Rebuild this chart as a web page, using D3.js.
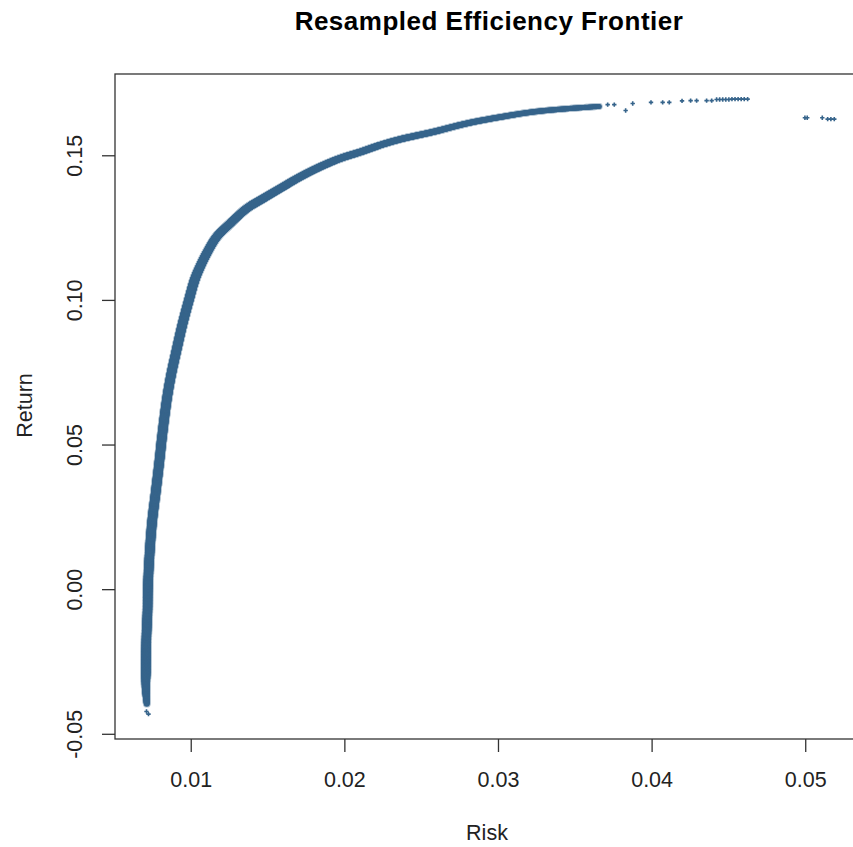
<!DOCTYPE html>
<html>
<head>
<meta charset="utf-8">
<script src="https://cdn.jsdelivr.net/npm/d3@7"></script>
<style>
  body { margin: 0; background: #fff; }
  svg { display: block; font-family: "Liberation Sans", Arial, sans-serif; }
</style>
</head>
<body>
<svg id="chart" width="853" height="847"></svg>
<script>
// Resampled frontier: centre of the dense band, bottom to top
const bandRisk = [0.00714, 0.00708, 0.00708, 0.00711, 0.00719, 0.00721, 0.00730, 0.00748, 0.00774, 0.00797,
  0.00811, 0.00844, 0.00872, 0.00908, 0.00945, 0.00988, 0.01025, 0.01057, 0.01104, 0.01169,
  0.01256, 0.01365, 0.01473, 0.01581, 0.01711, 0.01842, 0.01972, 0.02102, 0.02232, 0.02362,
  0.02579, 0.02796, 0.03013, 0.03230, 0.03447, 0.03664];
const bandReturn = [-0.0396, -0.0347, -0.0289, -0.0175, -0.0071, -0.0002, 0.0102, 0.0229, 0.0343, 0.0447,
  0.0516, 0.0654, 0.0740, 0.0827, 0.0913, 0.0999, 0.1068, 0.1110, 0.1161, 0.1218,
  0.1264, 0.1316, 0.1351, 0.1385, 0.1425, 0.1460, 0.1489, 0.1511, 0.1535, 0.1555,
  0.1581, 0.1610, 0.1632, 0.1650, 0.1661, 0.1669];

// Isolated portfolios outside the band
const loneRisk = [0.00712, 0.00725,
  0.03714, 0.03757, 0.03831, 0.03877, 0.03996, 0.04072, 0.04115, 0.04198, 0.04254, 0.04293, 0.04358, 0.04391,
  0.04423, 0.04443, 0.04463, 0.04483, 0.04503, 0.04523, 0.04543, 0.04563, 0.04583, 0.04603, 0.04625,
  0.04998, 0.05013, 0.05111, 0.05146, 0.05167, 0.05189];
const loneReturn = [-0.0423, -0.0432,
  0.1675, 0.1675, 0.1655, 0.1679, 0.1683, 0.1683, 0.1683, 0.1688, 0.1689, 0.1689, 0.1689, 0.1689,
  0.1693, 0.1693, 0.1693, 0.1693, 0.1693, 0.1694, 0.1694, 0.1694, 0.1694, 0.1694, 0.1694,
  0.1630, 0.1630, 0.1630, 0.1625, 0.1625, 0.1625];

const xTicks = [0.01, 0.02, 0.03, 0.04, 0.05];
const yTicks = [-0.05, 0.00, 0.05, 0.10, 0.15];
const xLimits = [0.00507, 0.0535];
const yLimits = [-0.0518, 0.1781];

const colour = "#36648B";
const axisColour = "#333";

const margin = { top: 74, right: -6, bottom: 108, left: 115 };
const width = 853, height = 847;

const svg = d3.select("#chart");

const x = d3.scaleLinear().domain(xLimits).range([margin.left, width - margin.right]);
const y = d3.scaleLinear().domain(yLimits).range([height - margin.bottom, margin.top]);

const band = bandRisk.map((r, i) => ({ risk: r, ret: bandReturn[i] }));
const lone = loneRisk.map((r, i) => ({ risk: r, ret: loneReturn[i] }));

// band thickness per band point: wide on the steep part, thinner along the flat top
function bandWidth(i) {
  if (i < 2) return 6 + i * 1.75;
  if (i <= 16) return 9.5;
  return 9.5 - (i - 16) / (band.length - 1 - 16) * 4.5;
}

// smooth centre line through the band points
const line = d3.line()
  .x(d => x(d.risk))
  .y(d => y(d.ret))
  .curve(d3.curveCatmullRom.alpha(0.5));

const guide = svg.append("path")
  .attr("d", line(band))
  .attr("fill", "none")
  .attr("stroke", "none");

// cumulative polyline length, used to map curve length back to a point index
const cum = [0];
for (let i = 1; i < band.length; i++) {
  const dx = x(band[i].risk) - x(band[i - 1].risk);
  const dy = y(band[i].ret) - y(band[i - 1].ret);
  cum.push(cum[i - 1] + Math.hypot(dx, dy));
}
const polyLen = cum[cum.length - 1];

function widthAt(frac) {
  const s = frac * polyLen;
  let i = d3.bisectRight(cum, s) - 1;
  i = Math.max(0, Math.min(band.length - 2, i));
  const t = (s - cum[i]) / (cum[i + 1] - cum[i]);
  return bandWidth(i) + (bandWidth(i + 1) - bandWidth(i)) * t;
}

const total = guide.node().getTotalLength();
const samples = [];
for (let s = 0; s <= total; s += 0.75) {
  const p = guide.node().getPointAtLength(s);
  samples.push({ x: p.x, y: p.y, w: widthAt(s / total) });
}

// soft halo to mimic the scattered edge markers
svg.append("g")
  .attr("opacity", 0.35)
  .selectAll("circle")
  .data(samples)
  .enter()
  .append("circle")
  .attr("cx", d => d.x)
  .attr("cy", d => d.y)
  .attr("r", d => d.w / 2 + 0.9)
  .attr("fill", colour);

svg.append("g")
  .selectAll("circle")
  .data(samples)
  .enter()
  .append("circle")
  .attr("cx", d => d.x)
  .attr("cy", d => d.y)
  .attr("r", d => d.w / 2)
  .attr("fill", colour);

// lone points as small plus signs
svg.append("g")
  .selectAll("path")
  .data(lone)
  .enter()
  .append("path")
  .attr("d", d => {
    const cx = x(d.risk), cy = y(d.ret), s = 2.2;
    return `M${cx - s},${cy}H${cx + s}M${cx},${cy - s}V${cy + s}`;
  })
  .attr("stroke", colour)
  .attr("stroke-width", 1.6)
  .attr("fill", "none");

// frame
svg.append("rect")
  .attr("x", margin.left)
  .attr("y", margin.top)
  .attr("width", width - margin.right - margin.left)
  .attr("height", height - margin.bottom - margin.top)
  .attr("fill", "none")
  .attr("stroke", axisColour)
  .attr("stroke-width", 1.3);

const fmt = d => d.toFixed(2);

// x axis
const xAxis = svg.append("g")
  .attr("transform", `translate(0, ${height - margin.bottom})`)
  .call(d3.axisBottom(x).tickValues(xTicks).tickSize(13).tickPadding(20).tickFormat(fmt));
xAxis.select(".domain").remove();
xAxis.selectAll(".tick line").attr("stroke", axisColour).attr("stroke-width", 1.3);
xAxis.selectAll(".tick text")
  .attr("fill", "#222")
  .style("font-size", "21.5px")
  .style("font-family", "Liberation Sans, Arial, sans-serif");

// y axis
const yAxis = svg.append("g")
  .attr("transform", `translate(${margin.left}, 0)`)
  .call(d3.axisLeft(y).tickValues(yTicks).tickSize(13).tickFormat(fmt));
yAxis.select(".domain").remove();
yAxis.selectAll(".tick line").attr("stroke", axisColour).attr("stroke-width", 1.3);
yAxis.selectAll(".tick text")
  .attr("fill", "#222")
  .attr("x", 0).attr("dy", 0)
  .attr("transform", "translate(-33.5, 0) rotate(-90)")
  .attr("text-anchor", "middle")
  .style("font-size", "21.5px")
  .style("font-family", "Liberation Sans, Arial, sans-serif");

// labels
svg.append("text")
  .attr("x", 489)
  .attr("y", 29.5)
  .attr("text-anchor", "middle")
  .style("font-size", "26px")
  .style("letter-spacing", "0.5px")
  .style("font-weight", "bold")
  .attr("fill", "#000")
  .text("Resampled Efficiency Frontier");

svg.append("text")
  .attr("x", 487)
  .attr("y", 840)
  .attr("text-anchor", "middle")
  .style("font-size", "21.5px")
  .attr("fill", "#222")
  .text("Risk");

svg.append("text")
  .attr("transform", "translate(31.5, 405.5) rotate(-90)")
  .attr("text-anchor", "middle")
  .style("font-size", "21.5px")
  .attr("fill", "#222")
  .text("Return");
</script>
</body>
</html>
